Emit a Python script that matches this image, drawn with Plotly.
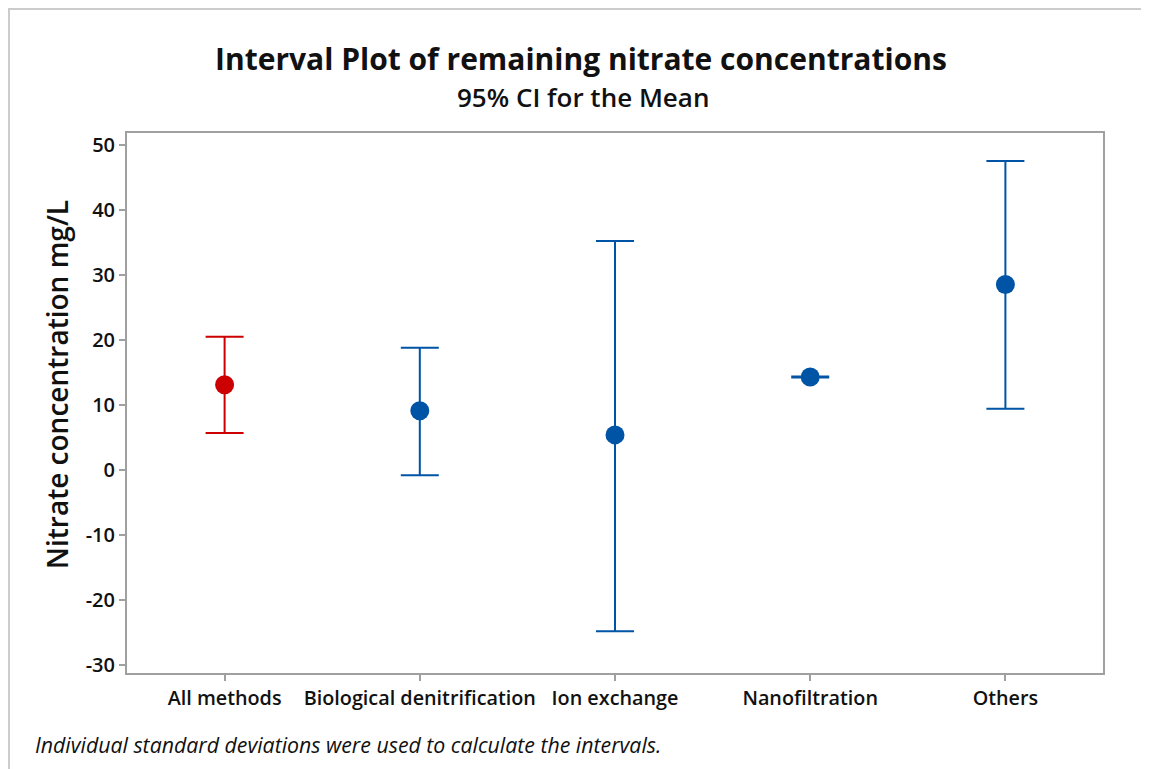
import plotly.graph_objects as go

categories = ["All methods", "Biological denitrification", "Ion exchange", "Nanofiltration", "Others"]
means = [13.1, 9.1, 5.4, 14.3, 28.5]
upper = [20.5, 18.8, 35.2, 14.38, 47.5]
lower = [5.7, -0.8, -24.8, 14.22, 9.4]
colors = ["#CC0000", "#0054A6", "#0054A6", "#0054A6", "#0054A6"]
yticks = [-30, -20, -10, 0, 10, 20, 30, 40, 50]
yticklabels = ["-30", "-20", "-10", "0", "10", "20", "30", "40", "50"]

# page has an 8px body margin; figure coordinates = screen coordinates - 8
OFF = 8
W, H = 1149 - OFF, 769 - OFF
ml, mt = 127 - OFF, 133 - OFF
mr = W - (1103 - OFF)
mb = H - (673 - OFF)
FONT = "Open Sans"

fig = go.Figure()
for i, c in enumerate(categories):
    fig.add_trace(go.Scatter(
        x=[c], y=[means[i]], mode="markers",
        marker=dict(size=19, color=colors[i]),
        error_y=dict(type="data", symmetric=False,
                     array=[upper[i] - means[i]], arrayminus=[means[i] - lower[i]],
                     color=colors[i], thickness=2, width=19),
        showlegend=False, hoverinfo="skip"))

pw = W - ml - mr
ph = H - mt - mb
def px(x):
    return (x - OFF - ml) / pw
def py(y):
    return (H - mb - (y - OFF)) / ph

fig.update_layout(
    width=W, height=H,
    margin=dict(l=ml, r=mr, t=mt, b=mb),
    paper_bgcolor="white", plot_bgcolor="white",
    font=dict(family=FONT, color="#111111"),
    xaxis=dict(range=[-0.5, 4.5], showgrid=False, zeroline=False,
               showline=True, linecolor="#A0A0A0", linewidth=2, mirror=True,
               ticks="outside", ticklen=6, tickwidth=2, tickcolor="#A0A0A0",
               tickfont=dict(size=19.8, family=FONT, weight=600, color="#111111")),
    yaxis=dict(range=[-31.2, 51.8], tickvals=yticks, ticktext=yticklabels,
               showgrid=False, zeroline=False,
               showline=True, linecolor="#A0A0A0", linewidth=2, mirror=True,
               ticks="outside", ticklen=6, tickwidth=2, tickcolor="#A0A0A0",
               tickfont=dict(size=20, family=FONT, weight=600, color="#111111")),
    shapes=[dict(type="rect", xref="paper", yref="paper",
                 x0=px(9), x1=px(1149 + 20), y0=py(769 + 20), y1=py(9),
                 line=dict(color="#CCCCCC", width=2), layer="below")],
    annotations=[
        dict(text="Interval Plot of remaining nitrate concentrations", xref="paper", yref="paper",
             x=px(581), y=py(58), showarrow=False, xanchor="center", yanchor="middle",
             font=dict(size=30, family=FONT, weight="bold", color="#111111")),
        dict(text="95% CI for the Mean", xref="paper", yref="paper",
             x=px(583), y=py(97), showarrow=False, xanchor="center", yanchor="middle",
             font=dict(size=26, family=FONT, weight=600, color="#111111")),
        dict(text="Nitrate concentration mg/L", xref="paper", yref="paper",
             x=px(57), y=py(385), showarrow=False, xanchor="center", yanchor="middle",
             textangle=-90,
             font=dict(size=28, family=FONT, weight=600, color="#111111")),
        dict(text="<i>Individual standard deviations were used to calculate the intervals.</i>",
             xref="paper", yref="paper", x=px(33), y=py(744), showarrow=False,
             xanchor="left", yanchor="middle",
             font=dict(size=21.3, family=FONT, color="#111111")),
    ],
)

fig.write_html("out.html")
